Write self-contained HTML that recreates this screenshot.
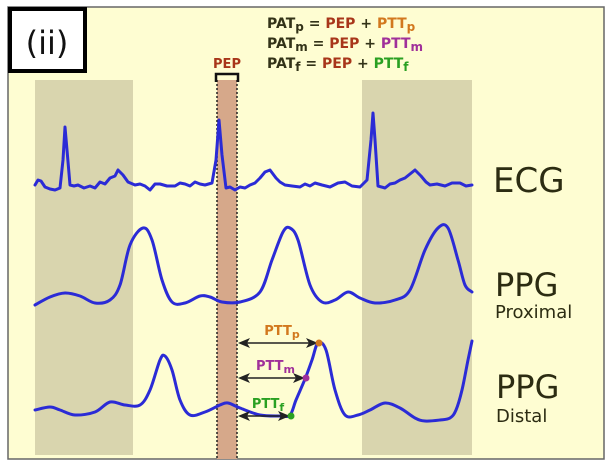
<!DOCTYPE html>
<html><head><meta charset="utf-8"><style>
html,body{margin:0;padding:0;background:#fff;}
svg{display:block;font-family:"DejaVu Sans","Liberation Sans",sans-serif;}
</style></head><body>
<svg width="613" height="468" viewBox="0 0 613 468">
<rect x="8" y="7" width="596" height="452" fill="#fefdd2" stroke="#666" stroke-width="1.5"/>
<rect x="35" y="80" width="98" height="375" fill="#d9d5ae"/>
<rect x="362" y="80" width="110" height="375" fill="#d9d5ae"/>
<rect x="217" y="80" width="20" height="379" fill="#d6a88a"/>
<line x1="217" y1="80" x2="217" y2="459" stroke="#222" stroke-width="1.5" stroke-dasharray="2,2"/>
<line x1="237" y1="80" x2="237" y2="459" stroke="#222" stroke-width="1.5" stroke-dasharray="2,2"/>
<path d="M216,82 V74 H238 V82" fill="none" stroke="#111" stroke-width="2.5"/>
<text x="227" y="68" text-anchor="middle" font-size="13" font-weight="bold" fill="#a8361a">PEP</text>
<rect x="10" y="9" width="75" height="62" fill="#fff" stroke="#000" stroke-width="4"/>
<text x="47" y="54" text-anchor="middle" font-size="32" fill="#111">(ii)</text>
<g font-size="14" font-weight="bold">
<text x="267" y="28"><tspan fill="#333318">PAT</tspan><tspan fill="#333318" font-size="12" dy="3">p</tspan><tspan dy="-3" fill="#333318"> = </tspan><tspan fill="#a8361a">PEP</tspan><tspan fill="#333318"> + </tspan><tspan fill="#d2781e">PTT</tspan><tspan fill="#d2781e" font-size="12" dy="3">p</tspan></text>
<text x="267" y="48"><tspan fill="#333318">PAT</tspan><tspan fill="#333318" font-size="12" dy="3">m</tspan><tspan dy="-3" fill="#333318"> = </tspan><tspan fill="#a8361a">PEP</tspan><tspan fill="#333318"> + </tspan><tspan fill="#a0309a">PTT</tspan><tspan fill="#a0309a" font-size="12" dy="3">m</tspan></text>
<text x="267" y="68"><tspan fill="#333318">PAT</tspan><tspan fill="#333318" font-size="12" dy="3">f</tspan><tspan dy="-3" fill="#333318"> = </tspan><tspan fill="#a8361a">PEP</tspan><tspan fill="#333318"> + </tspan><tspan fill="#2aa022">PTT</tspan><tspan fill="#2aa022" font-size="12" dy="3">f</tspan></text>
</g>
<g id="waves"></g>
<g id="arrows"></g>
<text x="493" y="192" font-size="34" fill="#2c2c12">ECG</text>
<text x="495" y="296" font-size="32" fill="#2c2c12">PPG</text>
<text x="495" y="318" font-size="18" fill="#2c2c12">Proximal</text>
<text x="496" y="398" font-size="32" fill="#2c2c12">PPG</text>
<text x="496" y="422" font-size="18" fill="#2c2c12">Distal</text>
</svg>
<script>
const ecgPts=[[35,185],[38,180],[41,181],[45,187],[50,189],[55,190],[60,188],[63,160],[65,127],[67,150],[70,185],[74,186],[78,185],[84,188],[90,186],[95,188],[100,182],[105,184],[110,178],[115,176],[118,170],[123,175],[128,182],[135,185],[140,184],[145,186],[150,190],[155,184],[160,184],[167,186],[175,186],[180,183],[185,184],[190,186],[195,182],[200,184],[205,185],[212,183],[216,160],[219,120],[222,155],[226,188],[230,187],[235,190],[240,187],[245,188],[250,185],[255,183],[260,178],[265,172],[270,170],[276,178],[280,182],[285,185],[292,186],[300,187],[305,184],[310,186],[315,183],[322,185],[330,187],[338,183],[345,182],[352,186],[360,187],[367,180],[371,140],[373,113],[375,140],[378,186],[385,188],[390,184],[395,183],[400,180],[405,178],[410,174],[415,170],[421,176],[426,182],[430,185],[437,184],[445,186],[452,183],[460,183],[466,186],[472,185]];
const proxPts=[[35,305],[50,297],[65,293],[80,296],[95,303],[110,300],[120,285],[130,245],[143,228],[152,240],[162,280],[172,302],[185,303],[200,296],[210,297],[222,302],[240,302],[260,292],[272,260],[283,232],[290,228],[298,240],[310,285],[322,302],[335,300],[348,292],[360,298],[375,303],[395,300],[410,290],[425,250],[438,228],[448,228],[458,260],[465,285],[472,292]];
const distPts=[[35,410],[50,407],[60,410],[75,415],[95,412],[110,402],[125,405],[140,405],[150,390],[160,360],[165,356],[172,370],[180,400],[190,415],[205,412],[220,405],[228,403],[240,408],[260,415],[280,416],[290,415],[296,400],[305,379],[312,360],[318,343],[326,350],[335,390],[345,415],[358,415],[370,410],[385,403],[400,408],[415,418],[425,421],[440,420],[450,418],[456,410],[462,390],[468,360],[472,341]];
const arrowYs=[343,378,416];
const arrowEnds=[318,305,290];
const arrowLabels=['p','m','f'];
const arrowColors=['#d2781e','#a0309a','#2aa022'];
const NS='http://www.w3.org/2000/svg';
const waves=document.getElementById('waves');
function smooth(pts){
  let d='M'+pts[0].join(',');
  for(let i=0;i<pts.length-1;i++){
    const p0=pts[i-1]||pts[i],p1=pts[i],p2=pts[i+1],p3=pts[i+2]||p2;
    const c1=[p1[0]+(p2[0]-p0[0])/6,p1[1]+(p2[1]-p0[1])/6];
    const c2=[p2[0]-(p3[0]-p1[0])/6,p2[1]-(p3[1]-p1[1])/6];
    d+=` C${c1[0]},${c1[1]} ${c2[0]},${c2[1]} ${p2[0]},${p2[1]}`;
  }
  return d;
}
function drawLine(pts,name,sm){
  const p=document.createElementNS(NS,'path');
  p.setAttribute('d',sm?smooth(pts):'M'+pts.map(q=>q.join(',')).join(' L'));
  p.setAttribute('fill','none');p.setAttribute('stroke','#2b2bd6');p.setAttribute('stroke-width','3');p.setAttribute('stroke-linejoin','round');p.setAttribute('stroke-linecap','round');
  
  
  waves.appendChild(p);
}
drawLine(ecgPts,'ecg-trace',false);drawLine(proxPts,'ppg-proximal-trace',true);drawLine(distPts,'ppg-distal-trace',true);
const ar=document.getElementById('arrows');
arrowYs.forEach((y,i)=>{
  const x1=238,x2=arrowEnds[i];
  const g=document.createElementNS(NS,'g');
  
  
  g.innerHTML=`<line x1="${x1+8}" y1="${y}" x2="${x2-8}" y2="${y}" stroke="#222" stroke-width="1.5"/>
<path d="M${x1},${y} L${x1+12},${y-5} L${x1+9},${y} L${x1+12},${y+5}Z" fill="#222"/>
<path d="M${x2},${y} L${x2-12},${y-5} L${x2-9},${y} L${x2-12},${y+5}Z" fill="#222"/>
<circle cx="${x2+1}" cy="${y}" r="3.5" fill="${arrowColors[i]}"/>
<text x="${(x1+x2)/2+4}" y="${y-8}" text-anchor="middle" font-size="13" font-weight="bold" fill="${arrowColors[i]}">PTT<tspan font-size="11" dy="3">${arrowLabels[i]}</tspan></text>`;
  ar.appendChild(g);
});
</script>
</body></html>
